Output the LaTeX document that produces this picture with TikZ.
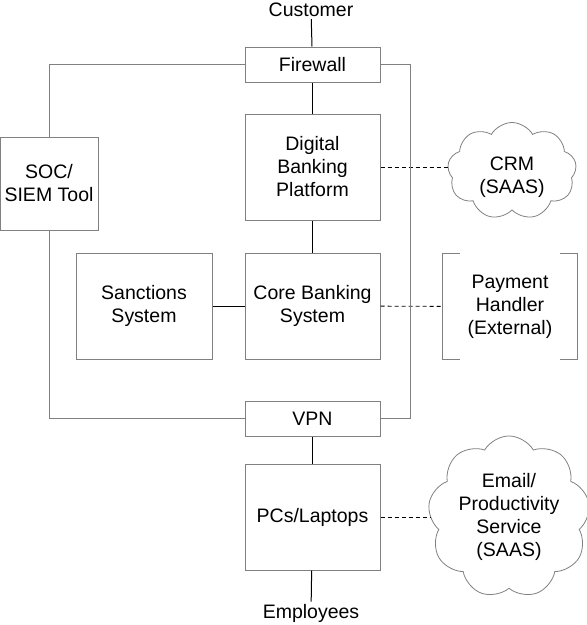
\documentclass[tikz,border=0pt]{standalone}
\usepackage{fontspec}
\setmainfont{Liberation Sans}
\usetikzlibrary{shapes.symbols}
\definecolor{edgegray}{RGB}{128,128,128}

\begin{document}
\begin{tikzpicture}[x=1pt,y=-1pt,
    font=\fontsize{19.5}{23}\selectfont,
    block/.style={draw=edgegray, line width=1pt, align=center, inner sep=0pt, minimum width=135pt},
    saas/.style={cloud, cloud puffs=9, cloud puff arc=120, draw=edgegray, line width=0.8pt, align=center, inner sep=0pt},
    link/.style={line width=1pt},
    dashlink/.style={line width=0.9pt, dash pattern=on 4pt off 3pt},
    loop/.style={draw=edgegray, line width=1pt}]
    \useasboundingbox (0,0) rectangle (587,625);
%% the internal systems in the middle column
    \node[block, minimum height=35pt] (fw) at (312.5,64.5) {Firewall};
    \node[block, minimum height=106pt] (dbp) at (312.5,167) {Digital\\Banking\\Platform};
    \node[block, minimum height=106pt] (core) at (312.5,306) {Core Banking\\System};
    \node[block, minimum width=136pt, minimum height=106pt] (sanc) at (144,306) {Sanctions\\System};
    \node[block, minimum height=35pt] (vpn) at (312.5,418.5) {VPN};
    \node[block, minimum height=106pt] (pcs) at (312.5,517) {PCs/Laptops};
    \node[block, minimum width=98pt, minimum height=93pt] (soc) at (49,183.5) {SOC/\\SIEM Tool};
    \node[inner sep=2pt] (cust) at (311,10) {Customer};
    \node[inner sep=2pt] (emp) at (311,613) {Employees};
%% outside services
    \node[saas, minimum width=129pt, minimum height=97pt] (crm) at (512,171) {};
    \node[align=center] (crmtext) at (512,177) {CRM\\(SAAS)};
    \node[align=center, minimum width=134pt, minimum height=105pt, inner sep=0pt] (pay) at (510,306.5) {Payment\\Handler\\(External)};
    \node[saas, minimum width=148pt, minimum height=115pt] (mail) at (509,517) {Email/\\Productivity\\Service\\(SAAS)};
    \draw[draw=edgegray, line width=0.8pt] ([xshift=17pt]pay.north west) -- (pay.north west) -- (pay.south west) -- ++(17,0);
    \draw[draw=edgegray, line width=0.8pt] ([xshift=-17pt]pay.north east) -- (pay.north east) -- (pay.south east) -- ++(-17,0);
%% connections
    \draw[link] (cust) -- (fw);
    \draw[link] (fw) -- (dbp);
    \draw[link] (dbp) -- (core);
    \draw[link] (sanc) -- (core);
    \draw[link] (vpn) -- (pcs);
    \draw[link] (pcs) -- (emp);
    \draw[dashlink] (dbp.east) -- (crm.west |- dbp.east);
    \draw[dashlink] (core) -- (pay);
    \draw[dashlink] (pcs.east) -- (mail.west |- pcs.east);
%% monitoring loop round the SOC
    \coordinate (rside) at (410,0);
    \draw[loop] (soc.north) |- (fw.west);
    \draw[loop] (soc.south) |- (vpn.west);
    \draw[loop] (fw.east) -| (rside |- vpn.east) -- (vpn.east);
\end{tikzpicture}
\end{document}
